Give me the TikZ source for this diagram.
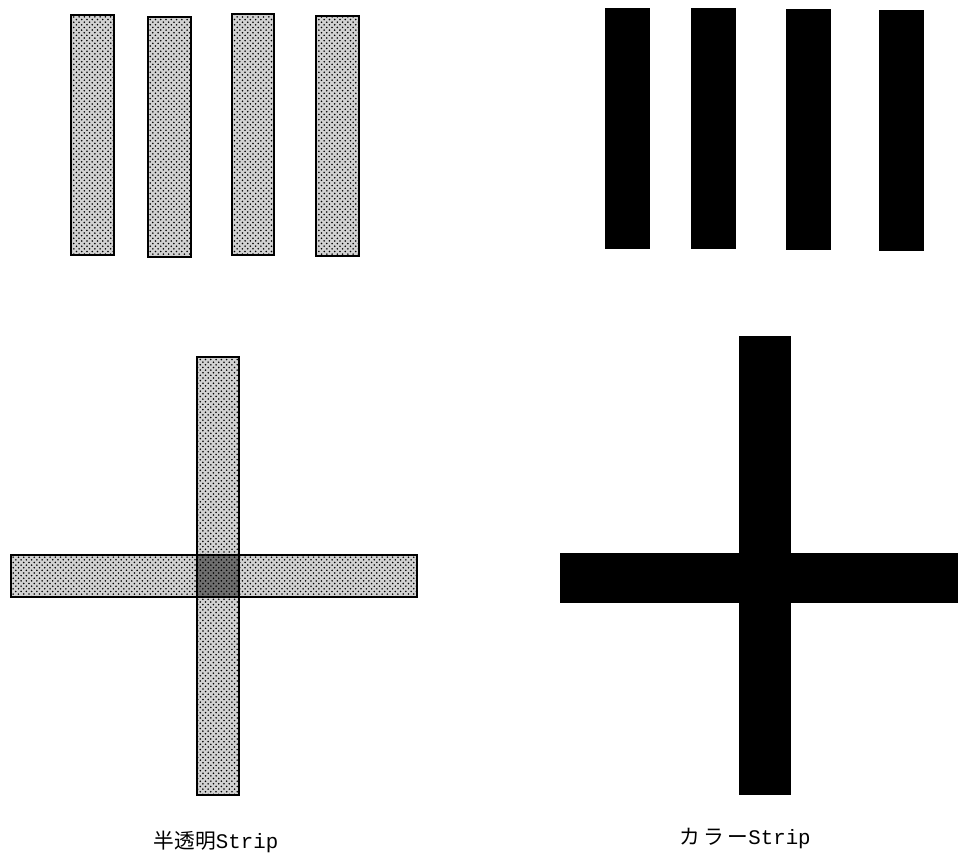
\documentclass[tikz,border=0pt]{standalone}
\usepackage{fontspec}
\usepackage{xcolor}
\usepackage{tikz}
\usetikzlibrary{patterns}
\newfontfamily\cjk{Noto Sans CJK JP}
\newfontfamily\stripmono{Liberation Mono}
\definecolor{stripInk}{HTML}{000000}
\definecolor{stripPaper}{HTML}{FFFFFF}
\definecolor{stripTint}{HTML}{D2D2D2}
\definecolor{stripOverlap}{HTML}{6E6E6E}

\begin{document}
\begin{tikzpicture}[x=0.02cm, y=-0.02cm, line join=miter,
    halfstrip/.style={draw=stripInk, line width=1.7pt, preaction={fill=stripTint},
      pattern=crosshatch dots, pattern color=stripInk},
    overlapbox/.style={draw=stripInk, line width=1.7pt, preaction={fill=stripOverlap},
      pattern=crosshatch dots, pattern color=stripInk},
    colstrip/.style={fill=stripInk},
    striplabel/.style={font=\fontsize{11.8}{13}\selectfont, inner sep=0pt}]
  \useasboundingbox[fill=stripPaper] (0,0) rectangle (958,855);
  % top left: translucent strips
  \foreach \xa/\ya/\xb/\yb in {71/15/114/255, 148/17/191/257, 232/14/274/255, 316/16/359/256}{%
    \draw[halfstrip] (\xa,\ya) rectangle (\xb,\yb);
  }
  % top right: colour strips
  \foreach \xa/\ya/\xb/\yb in {605/8/650/249, 691/8/736/249, 786/9/831/250, 879/10/924/251}{%
    \fill[colstrip] (\xa,\ya) rectangle (\xb,\yb);
  }
  % bottom left: crossed translucent strips
  \draw[halfstrip] (197,357) rectangle (239,795);
  \draw[halfstrip] (11,555) rectangle (417,597);
  \draw[overlapbox] (197,555) rectangle (239,597);
  % bottom right: crossed colour strips
  \fill[colstrip] (739,336) rectangle (791,795);
  \fill[colstrip] (560,553) rectangle (958,603);
  \node[striplabel] (halflabel) at (216,842) {{\cjk 半透明}{\stripmono Strip}};
  \node[striplabel] (collabel) at (745,838) {{\cjk カ\,ラ\,ー}{\stripmono Strip}};
\end{tikzpicture}
\end{document}
